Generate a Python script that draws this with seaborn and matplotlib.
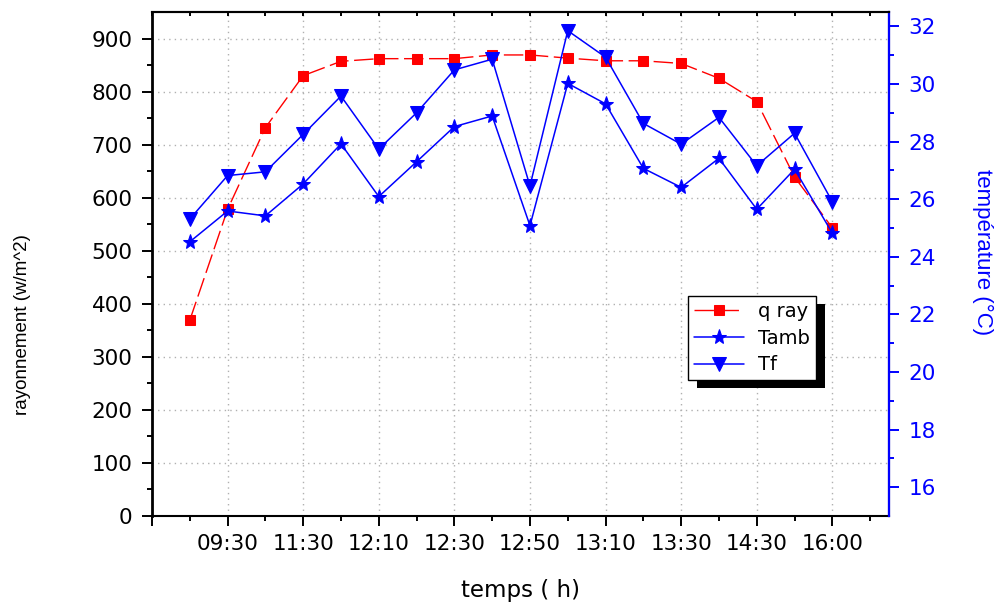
import seaborn as sns
import matplotlib.pyplot as plt
import pandas as pd
from matplotlib import font_manager
from matplotlib.patches import Rectangle

# measurement points (index) and the times shown under every second point
points = list(range(18))
tick_pos = [-1, 1, 3, 5, 7, 9, 11, 13, 15, 17]
time_labels = ['', '09:30', '11:30', '12:10', '12:30', '12:50', '13:10', '13:30', '14:30', '16:00']

q_ray = [369, 578, 732, 830, 857, 862, 862, 862, 869, 869, 863, 858, 858, 853, 825, 781, 639, 543]
t_amb = [24.52, 25.59, 25.42, 26.53, 27.92, 26.09, 27.30, 28.52, 28.89, 25.08,
         30.02, 29.31, 27.07, 26.41, 27.42, 25.65, 27.04, 24.82]
t_f = [25.31, 26.82, 26.95, 28.25, 29.58, 27.74, 29.00, 30.49, 30.86, 26.46,
       31.85, 30.93, 28.63, 27.91, 28.84, 27.16, 28.29, 25.91]

df = pd.DataFrame({'point': points, 'q ray': q_ray, 'Tamb': t_amb, 'Tf': t_f})

sns.set_theme(style='ticks')
plt.rcParams['font.family'] = ['DejaVu Sans']
plt.rcParams.update({'text.color': 'black', 'axes.labelcolor': 'black',
                     'xtick.color': 'black', 'ytick.color': 'black'})

names = {f.name for f in font_manager.fontManager.ttflist}
if 'Liberation Sans Narrow' in names:
    lab_font, left_size, right_size = 'Liberation Sans Narrow', 16.5, 19
else:
    lab_font, left_size, right_size = 'Liberation Sans', 13.5, 16

fig = plt.figure(figsize=(10.04, 6.02), dpi=100)
ax = fig.add_axes([0.1514, 0.1429, 0.7341, 0.8372])
ax2 = ax.twinx()

sns.lineplot(df, x='point', y='q ray', ax=ax, color='#ff0000', marker='s', markersize=7.5,
             markeredgecolor='#ff0000', linewidth=1, linestyle=(0, (14, 4)), legend=False)
sns.lineplot(df, x='point', y='Tamb', ax=ax2, color='#0000ff', marker='*', markersize=11,
             markeredgecolor='#0000ff', linewidth=1.1, legend=False)
sns.lineplot(df, x='point', y='Tf', ax=ax2, color='#0000ff', marker='v', markersize=9.5,
             markeredgecolor='#0000ff', linewidth=1.1, legend=False)

ax.set_xlim(-1, 18.5)
ax.set_ylim(0, 950)
ax2.set_ylim(15, 32.5)

ax.set_xticks(tick_pos, time_labels)
ax.set_xticks(range(0, 19, 2), minor=True)
ax.set_yticks(range(0, 901, 100))
ax.set_yticks(range(50, 950, 100), minor=True)
ax2.set_yticks(range(16, 33, 2))
ax2.set_yticks(range(17, 33, 2), minor=True)

ax.grid(True, which='major', color='#b0b0b0', linestyle=(0, (1, 3)), linewidth=1)
ax.set_axisbelow(True)

ax.tick_params(which='major', direction='out', length=7, width=1.4, labelsize=15.5, color='black')
ax.tick_params(which='minor', direction='out', length=3.5, width=1.4, color='black')
ax.tick_params(axis='x', pad=6)
ax.tick_params(axis='y', pad=7)
ax.tick_params(axis='y', which='both', right=False)
ax.tick_params(axis='x', which='both', top=False)

ax2.tick_params(axis='y', which='major', direction='out', length=7, width=1.4,
                labelsize=15.5, colors='#0000ff', pad=7)
ax2.tick_params(axis='y', which='minor', direction='out', length=3.5, width=1.4, colors='#0000ff')
ax2.xaxis.set_visible(True)
ax2.set_xlabel('')
ax2.tick_params(axis='x', which='both', bottom=False, top=True, labelbottom=False,
                labeltop=False, direction='in', length=3, width=1.4, color='black')

for s in ax.spines.values():
    s.set_color('black')
    s.set_linewidth(1.5)
ax.spines['left'].set_linewidth(2)
ax2.spines['left'].set_visible(False)
ax2.spines['bottom'].set_visible(False)
ax2.spines['top'].set_color('black')
ax2.spines['top'].set_linewidth(1.5)
ax2.spines['right'].set_color('#0000ff')
ax2.spines['right'].set_linewidth(1.6)

ax.set_xlabel('temps ( h)', fontsize=16.5, va='center')
ax.xaxis.set_label_coords(0.5, -0.147)
ax.set_ylabel('rayonnement (w/m^2)', family=lab_font, fontsize=left_size, va='center')
ax.yaxis.set_label_coords(-0.176, 0.379)
ax2.set_ylabel('température (°C)', family=lab_font, fontsize=right_size, color='#0000ff',
               rotation=270, va='center')
ax2.yaxis.set_label_coords(1.1275, 0.524)

handles = ax.get_lines() + ax2.get_lines()
leg = ax2.legend(handles, ['q ray', 'Tamb', 'Tf'], loc='upper left', bbox_to_anchor=(0.727, 0.4365),
                 frameon=True, fancybox=False, edgecolor='black', framealpha=1, fontsize=14,
                 handlelength=2.6, handletextpad=0.7, labelspacing=0.4, borderpad=0.3,
                 borderaxespad=0)
leg.get_frame().set_linewidth(1.0)

fig.canvas.draw()
bb = leg.get_window_extent()
shadow = Rectangle((bb.x0 + 9, bb.y0 - 8), bb.width, bb.height, transform=None,
                   facecolor='black', edgecolor='none', zorder=leg.get_zorder() - 0.1)
shadow.set_clip_on(False)
ax2.add_artist(shadow)

fig.savefig('out.png', dpi=100)
